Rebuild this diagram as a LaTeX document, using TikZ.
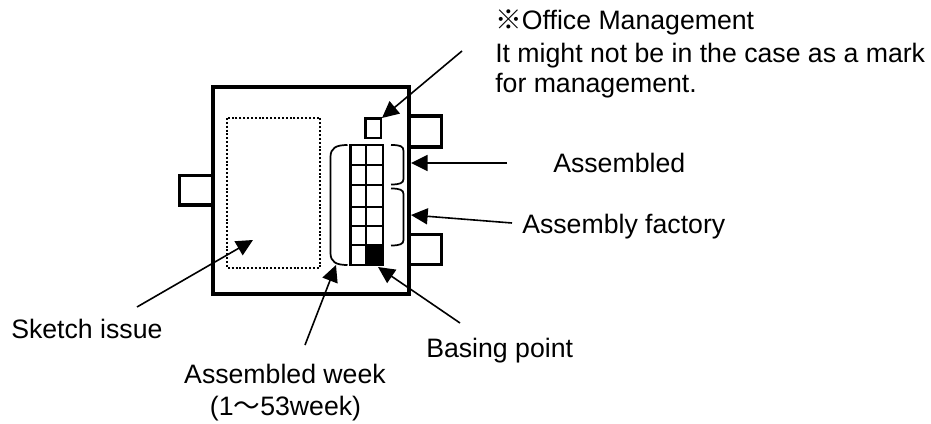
\documentclass[tikz,border=0pt]{standalone}
\usepackage{fontspec}
\setmainfont{Liberation Sans}
\newfontfamily\cjk{Noto Sans CJK JP}
\usetikzlibrary{arrows.meta}
\tikzset{
  x=0.75pt,y=-0.75pt,
  outline/.style={line width=2.6pt,line join=miter},
  cell/.style={line width=1.6pt},
  brace/.style={line width=1.3pt},
  pointer/.style={line width=1.2pt,-{Triangle[length=12.5pt,width=12pt]}},
  lbl/.style={inner sep=0pt,font=\fontsize{20pt}{23pt}\selectfont,anchor=base west},
  lblc/.style={inner sep=0pt,font=\fontsize{20pt}{23pt}\selectfont,anchor=base},
}
\begin{document}
\begin{tikzpicture}
\useasboundingbox (0,0) rectangle (931,424);
\fill[white] (0,0) rectangle (931,424);
% tabs and body
\draw[outline] (213,175.5) -- (179.5,175.5) -- (179.5,205) -- (213,205);
\draw[outline] (409,116) -- (441.5,116) -- (441.5,147) -- (409,147);
\draw[outline] (409,234.5) -- (441.5,234.5) -- (441.5,264.5) -- (409,264.5);
\draw[outline] (213,87) rectangle (409,294);
% dotted area
\draw[line width=1.6pt,dash pattern=on 1.5pt off 1.4pt] (227,118) rectangle (320,268);
% small square
\draw[cell] (365.5,118.5) rectangle (381,138);
% grid
\foreach \ya/\yb in {145/165,165/185,185/207,207/226,226/245,245/265}{
  \draw[cell] (350.5,\ya) rectangle (366,\yb);
  \draw[cell] (366,\ya) rectangle (383,\yb);
}
\fill[black] (366,245) rectangle (383,265);
% braces
\draw[brace] (347.5,145) .. controls (336,145) and (330.5,148) .. (330.5,157) -- (330.5,253) .. controls (330.5,262) and (336,265) .. (347.5,265);
\draw[brace] (391,145) .. controls (400,145) and (403.5,146) .. (403.5,151) -- (403.5,179) .. controls (403.5,183) and (400,184.5) .. (391,184.5);
\draw[brace] (391,188.5) .. controls (400,188.5) and (403.5,190) .. (403.5,194) -- (403.5,240) .. controls (403.5,244) and (400,245.5) .. (391,245.5);
% targets
\coordinate (toffice) at (382,118);
\coordinate (tassem) at (411,163);
\coordinate (tfact) at (411,215);
\coordinate (tbase) at (378,267);
\coordinate (tsketch) at (253,240);
\coordinate (tweek) at (336,265);
% labels
\node[lbl] (office) at (495,30) {{\cjk ※}Office Management};
\node[lbl] (note1) at (495,62.5) {It might not be in the case as a mark};
\node[lbl] (note2) at (495,92.5) {for management.};
\node[lbl] (assem) at (553,172) {Assembled};
\node[lbl] (fact) at (522,233) {Assembly factory};
\node[lbl] (base) at (426,357) {Basing point};
\node[lbl] (sketch) at (11,338) {Sketch issue};
\node[lblc] (week) at (285,383) {Assembled week};
\node[lblc] (weekb) at (285.5,415) {(1{\cjk ～}53week)};
% pointers
\coordinate (soffice) at (462,51);
\coordinate (sassem) at (507,163);
\coordinate (sfact) at (512,223);
\coordinate (sbase) at (460,323);
\coordinate (ssketch) at (137,307);
\coordinate (sweek) at (305,345);
\draw[pointer] (soffice) -- (toffice);
\draw[pointer] (sassem) -- (tassem);
\draw[pointer] (sfact) -- (tfact);
\draw[pointer] (sbase) -- (tbase);
\draw[pointer] (ssketch) -- (tsketch);
\draw[pointer] (sweek) -- (tweek);
\end{tikzpicture}
\end{document}
